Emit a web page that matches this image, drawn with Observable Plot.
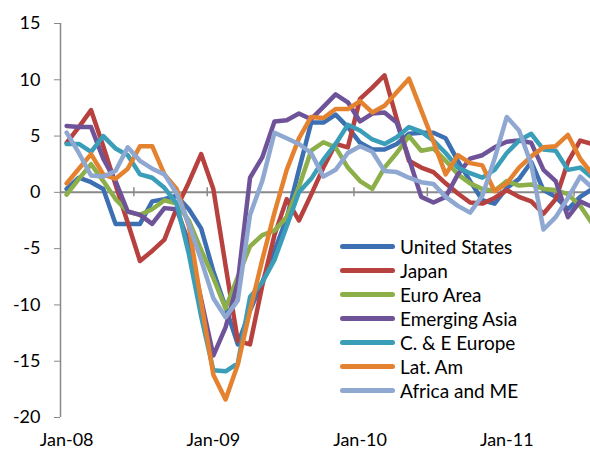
<!DOCTYPE html>
<html>
<head>
<meta charset="utf-8">
<script src="https://cdn.jsdelivr.net/npm/d3@7"></script>
<script src="https://cdn.jsdelivr.net/npm/@observablehq/plot@0.6"></script>
<style>
  html, body { margin: 0; padding: 0; background: #fff; }
  #wrap { position: relative; width: 590px; height: 452px; overflow: hidden; font-family: Lato, "Open Sans", sans-serif; }
  #wrap svg { position: absolute; left: 0; top: 0; }
  #legend { position: absolute; left: 340px; top: 235px; }
  .item { display: flex; align-items: center; height: 23.9px; }
  .sw { width: 55px; height: 5px; border-radius: 3px; margin-right: 5px; }
  .lab { font-size: 19px; color: #000; white-space: nowrap; }
</style>
</head>
<body>
<div id="wrap"><div id="legend"></div></div>
<script>
// Series names and colours
const seriesNames = ["United States", "Japan", "Euro Area", "Emerging Asia", "C. & E Europe", "Lat. Am", "Africa and ME"];
const seriesColors = ["#3D70B2", "#B6413E", "#8CAF4A", "#6F5399", "#3B9EB8", "#E5822F", "#8FA8D2"];

// Monthly values, Jan-08 .. Aug-11 (44 months)
const unitedStates = [0.3, 1.3, 0.9, 0.3, -2.8, -2.8, -2.8, -0.8, -0.6, -0.3, -1.5, -3.2, -7.0, -10.2, -13.5, -10.5, -8.0, -5.2, -2.3, 2.0, 6.2, 6.2, 6.9, 5.8, 4.4, 3.8, 3.8, 4.3, 5.2, 5.3, 5.3, 4.8, 2.8, 1.0, -0.7, -1.0, 0.4, 1.2, 2.7, 0.2, -0.4, -1.5, -0.4, 0.3];
const japan = [4.4, 5.8, 7.3, 4.1, 0.7, -2.7, -6.1, -5.2, -4.2, -1.4, 0.9, 3.4, 0.3, -6.5, -13.2, -13.5, -8.3, -3.8, -0.6, -2.5, -0.2, 2.2, 4.3, 4.0, 8.3, 9.3, 10.4, 6.5, 2.8, 2.2, 1.8, 0.8, -0.1, -0.9, -1.0, -0.5, 0.2, -0.4, -0.8, -1.9, -0.6, 2.7, 4.6, 4.3];
const euroArea = [-0.2, 1.2, 2.5, 1.0, -0.6, -1.7, -2.0, -1.5, -0.7, -1.0, -2.5, -5.1, -7.6, -10.3, -7.5, -4.8, -3.8, -3.4, -2.2, 0.5, 3.7, 4.45, 4.0, 2.2, 1.0, 0.3, 2.2, 3.5, 5.0, 3.7, 3.9, 2.8, 1.6, 0.8, 0.3, 0.15, 1.0, 0.6, 0.7, 0.3, 0.2, -0.15, -1.2, -2.8];
const emergingAsia = [5.9, 5.8, 5.8, 3.0, 1.0, -1.7, -2.0, -2.8, -1.4, -1.5, -4.5, -9.5, -14.5, -12.0, -8.0, 1.3, 3.1, 6.3, 6.4, 7.0, 6.5, 7.6, 8.7, 8.0, 6.3, 7.0, 7.1, 6.2, 3.0, -0.4, -0.9, -0.4, 1.6, 3.0, 3.3, 4.0, 4.5, 4.6, 4.4, 2.0, 1.0, -2.2, -0.8, -1.3];
const ceEurope = [4.3, 4.3, 3.6, 5.0, 3.9, 3.3, 1.6, 1.3, 0.4, -1.0, -5.5, -11.0, -15.8, -15.9, -15.2, -9.3, -8.0, -6.0, -3.0, 0.0, 1.2, 2.9, 4.3, 6.0, 5.5, 4.7, 4.3, 4.9, 5.8, 5.4, 4.6, 3.5, 2.2, 1.7, 1.3, 2.0, 3.5, 4.6, 5.2, 3.8, 3.7, 2.0, 2.2, 1.3];
const latAm = [0.8, 2.1, 3.4, 1.6, 1.2, 2.1, 4.1, 4.1, 1.6, 0.3, -3.0, -9.7, -16.2, -18.4, -15.3, -10.5, -6.0, -1.8, 2.0, 4.8, 6.7, 6.6, 7.4, 7.4, 8.1, 7.1, 7.7, 8.9, 10.1, 7.3, 4.5, 1.6, 3.3, 2.6, 2.4, 0.1, 0.8, 2.2, 3.2, 4.0, 4.1, 5.1, 3.0, 1.6];
const africaME = [5.3, 3.5, 1.5, 1.4, 1.9, 4.0, 2.8, 2.1, 1.6, -0.1, -2.8, -6.0, -9.4, -11.1, -9.6, -2.0, 1.0, 5.3, 4.8, 4.3, 3.5, 1.4, 2.0, 3.5, 4.1, 3.6, 1.9, 1.8, 1.3, 0.9, 0.75, -0.4, -1.2, -1.8, -0.3, 3.0, 6.7, 5.5, 2.5, -3.3, -2.2, -0.5, 1.4, 0.4];

// Axis ticks and labels
const yTicks = [-20, -15, -10, -5, 0, 5, 10, 15];
const xLabelIndex = [0, 12, 24, 36];
const xLabels = ["Jan-08", "Jan-09", "Jan-10", "Jan-11"];
const xTickMarks = [5.5, 11.5, 17.5, 23.5, 29.5, 35.5, 41.5];

const allSeries = [unitedStates, japan, euroArea, emergingAsia, ceEurope, latAm, africaME];
const rows = [];
seriesNames.forEach((name, k) => allSeries[k].forEach((v, i) => rows.push({series: name, i, v})));

const gray = "#898989";

const chart = Plot.plot({
  width: 590,
  height: 452,
  marginLeft: 60,
  marginRight: -8,
  marginTop: 23,
  marginBottom: 35,
  style: {fontFamily: "Lato, 'Open Sans', sans-serif", fontSize: "18px", color: "#000", background: "transparent"},
  x: {domain: [-0.5, 43.5], axis: null},
  y: {domain: [-20, 15], axis: null},
  color: {domain: seriesNames, range: seriesColors},
  marks: [
    Plot.ruleX([-0.5], {y1: -20, y2: 15, stroke: gray, strokeWidth: 1.5}),
    Plot.axisY({ticks: yTicks, tickSize: 6, tickPadding: 14, stroke: gray, fill: "#000", fontSize: 18, label: null, tickFormat: d => d}),
    Plot.axisX({ticks: xLabelIndex, tickFormat: i => xLabels[xLabelIndex.indexOf(i)], tickSize: 0, tickPadding: 16, anchor: "bottom", fill: "#000", fontSize: 18, label: null}),
    Plot.ruleY([0], {stroke: gray, strokeWidth: 2}),
    Plot.ruleX(xTickMarks, {y1: -0.4, y2: 0.4, stroke: gray, strokeWidth: 1.5}),
    Plot.line(rows, {x: "i", y: "v", z: "series", stroke: "series", strokeWidth: 4.5, strokeLinejoin: "round", strokeLinecap: "round"})
  ]
});

const wrap = document.getElementById("wrap");
wrap.insertBefore(chart, wrap.firstChild);

const legend = document.getElementById("legend");
seriesNames.forEach((name, k) => {
  const item = document.createElement("div");
  item.className = "item";
  const sw = document.createElement("div");
  sw.className = "sw";
  sw.style.background = seriesColors[k];
  const lab = document.createElement("span");
  lab.className = "lab";
  lab.textContent = name;
  item.appendChild(sw);
  item.appendChild(lab);
  legend.appendChild(item);
});
</script>
</body>
</html>
